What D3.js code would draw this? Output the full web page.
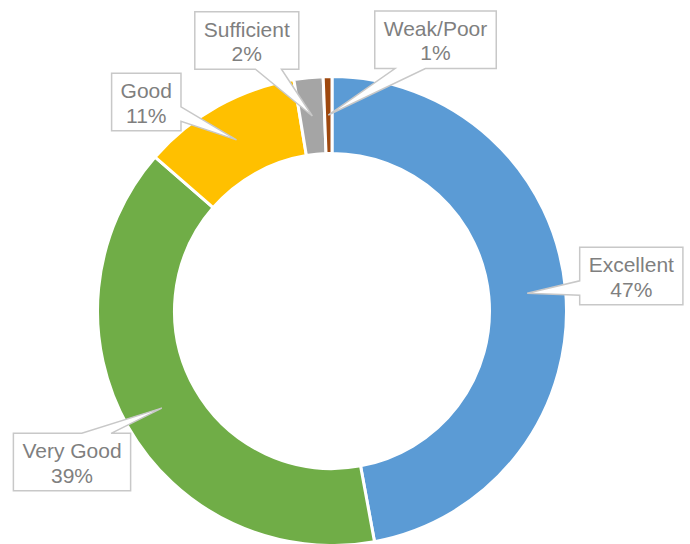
<!DOCTYPE html>
<html>
<head>
<meta charset="utf-8">
<script src="https://cdn.jsdelivr.net/npm/d3@7"></script>
<style>
  html, body { margin: 0; padding: 0; background: #fff; }
  svg { display: block; }
</style>
</head>
<body>
<svg id="chart" width="690" height="544"></svg>
<script>
// ---- data ----
const categories = ["Excellent", "Very Good", "Good", "Sufficient", "Weak/Poor"];
const values = [47.1, 39.3, 11.0, 2.0, 0.6];
const colors = ["#5B9BD5", "#70AD47", "#FFC000", "#A5A5A5", "#9E480E"];

// ---- layout (label box anchor: centre x, top y) ----
const labelCx = [631.3, 72, 146.3, 246.8, 435.5];
const labelTop = [247.3, 433.3, 73.3, 11.7, 11];

const W = 690, H = 544;
const cx = 332, cy = 311;
const outerR = 234.5, innerR = 157.5;

const svg = d3.select("#chart");
const total = d3.sum(values);
const pct = d3.format(".0%");

const pie = d3.pie().sort(null).value(d => d.value);
const data = categories.map((c, i) => ({ name: c, value: values[i], color: colors[i], i }));
const arcs = pie(data);

const arc = d3.arc().innerRadius(innerR).outerRadius(outerR);
const midArc = d3.arc().innerRadius((233 + 159) / 2).outerRadius((233 + 159) / 2);

const g = svg.append("g").attr("transform", `translate(${cx},${cy})`);
g.selectAll("path.slice")
  .data(arcs)
  .join("path")
  .attr("class", "slice")
  .attr("d", arc)
  .attr("fill", d => d.data.color)
  .attr("stroke", "#fff")
  .attr("stroke-width", 3)
  .attr("stroke-linejoin", "miter");

// ---- callout labels ----
const fontSize = 21;
const boxH = 57.5;
const labels = svg.append("g");

arcs.forEach((a, i) => {
  const c = midArc.centroid(a);
  const tip = [cx + c[0], cy + c[1]];
  const lg = labels.append("g");
  const path = lg.append("path");
  const t1 = lg.append("text")
    .attr("x", labelCx[i]).attr("y", labelTop[i] + 25)
    .attr("text-anchor", "middle")
    .attr("font-family", "Liberation Sans, Arial, sans-serif")
    .attr("font-size", fontSize)
    .attr("fill", "#7F7F7F")
    .text(a.data.name);
  const t2 = lg.append("text")
    .attr("x", labelCx[i]).attr("y", labelTop[i] + 49.3)
    .attr("text-anchor", "middle")
    .attr("font-family", "Liberation Sans, Arial, sans-serif")
    .attr("font-size", fontSize)
    .attr("fill", "#7F7F7F")
    .text(pct(a.data.value / total));
  const tw = Math.max(t1.node().getComputedTextLength(), t2.node().getComputedTextLength());
  const w = tw + 18;
  const x0 = labelCx[i] - w / 2, y0 = labelTop[i];
  const x1 = x0 + w, y1 = y0 + boxH;
  const bcx = (x0 + x1) / 2, bcy = (y0 + y1) / 2;
  const dx = (tip[0] - bcx) / w, dy = (tip[1] - bcy) / boxH;
  let pts;
  if (Math.abs(dy) >= Math.abs(dx)) {
    const f = tip[0] > bcx ? [7 / 12, 10 / 12] : [2 / 12, 5 / 12];
    const ba = x0 + f[0] * w, bb = x0 + f[1] * w;
    if (dy > 0) {
      pts = [[x0, y0], [x1, y0], [x1, y1], [bb, y1], tip, [ba, y1], [x0, y1]];
    } else {
      pts = [[x0, y0], [ba, y0], tip, [bb, y0], [x1, y0], [x1, y1], [x0, y1]];
    }
  } else {
    const f = tip[1] > bcy ? [7 / 12, 10 / 12] : [2 / 12, 5 / 12];
    const ba = y0 + f[0] * boxH, bb = y0 + f[1] * boxH;
    if (dx > 0) {
      pts = [[x0, y0], [x1, y0], [x1, ba], tip, [x1, bb], [x1, y1], [x0, y1]];
    } else {
      pts = [[x0, y0], [x1, y0], [x1, y1], [x0, y1], [x0, bb], tip, [x0, ba]];
    }
  }
  path.attr("d", d3.line()(pts) + "Z")
    .attr("fill", "#fff")
    .attr("stroke", "#C8C8C8")
    .attr("stroke-width", 1.5)
    .attr("fill-opacity", 1);
  path.lower();
});
</script>
</body>
</html>
